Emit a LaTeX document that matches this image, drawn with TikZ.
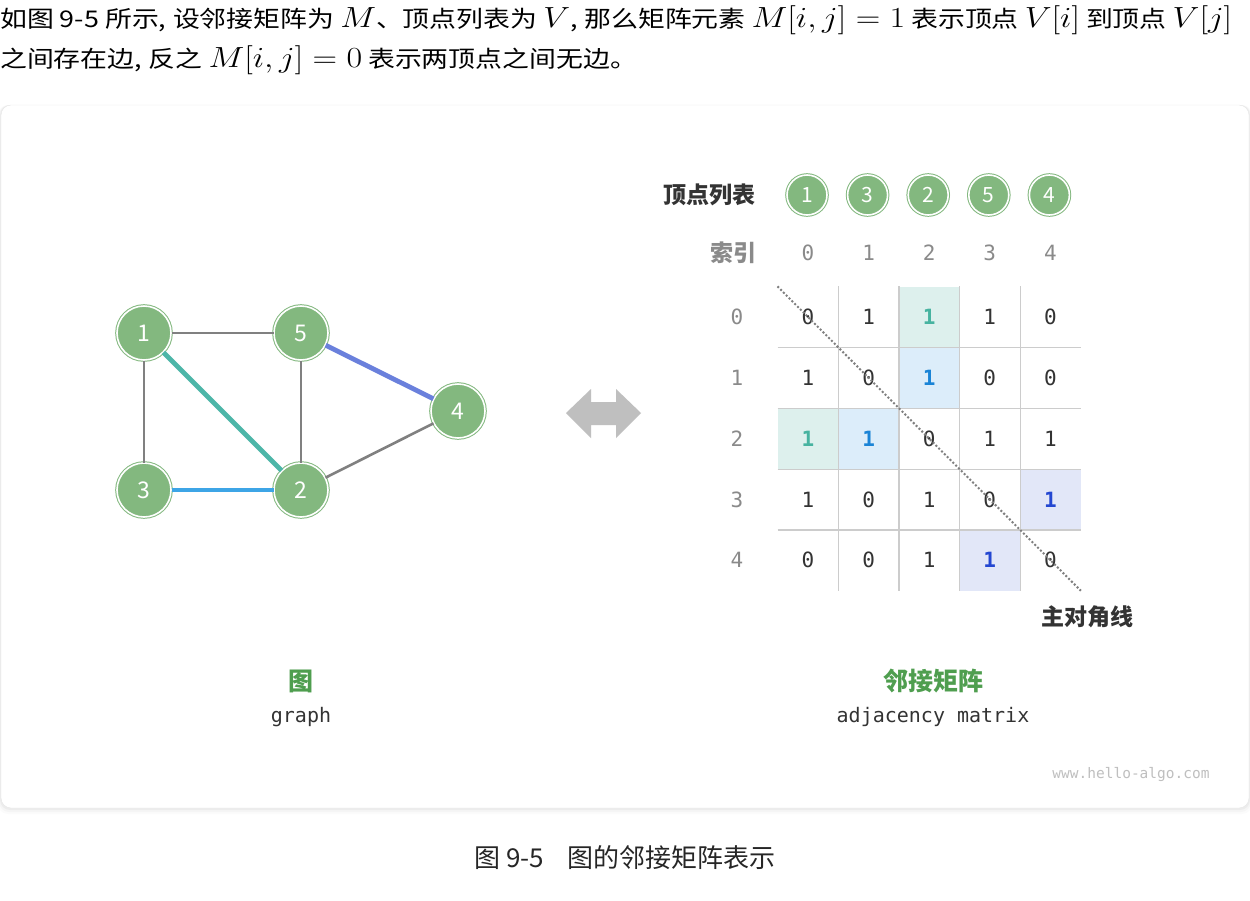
\documentclass[tikz,border=0pt]{standalone}
\usepackage{graphicx}
\usepackage{fontspec}
\setmainfont{Noto Sans CJK SC}
\setmonofont{DejaVu Sans Mono}
\usetikzlibrary{positioning}
\definecolor{vgreen}{HTML}{83B87F}
\definecolor{lblgreen}{HTML}{4F9E4F}
\definecolor{darktext}{HTML}{333333}
\definecolor{greytext}{HTML}{8A8A8A}
\definecolor{edgegrey}{HTML}{808080}
\definecolor{edgeteal}{HTML}{4DB6A8}
\definecolor{edgeblue}{HTML}{3DA5E6}
\definecolor{edgeindigo}{HTML}{6A80DC}
\definecolor{fillteal}{HTML}{DDF0ED}
\definecolor{fillblue}{HTML}{DCEDFA}
\definecolor{fillindigo}{HTML}{E2E7F8}
\definecolor{numteal}{HTML}{47B3A0}
\definecolor{numblue}{HTML}{1A84D6}
\definecolor{numindigo}{HTML}{2447D1}
\newcommand{\fsz}[1]{\fontsize{#1}{#1}\selectfont}
\newcommand{\mth}[1]{{\fsz{24}\scalebox{1.17}{$#1$}}}
\newcommand{\cm}{,\hspace{0.25em}}
% hai dòng chữ phía trên, đo trước rồi kéo giãn ngang
\newsavebox\lineonebox
\newsavebox\linetwobox
\AtBeginDocument{%
  \sbox\lineonebox{\normalfont\fsz{23}如图 9-5 所示\cm 设邻接矩阵为 \mth{M}、顶点列表为 \mth{V}\cm 那么矩阵元素 \mth{M[i,j]=1} 表示顶点 \mth{V[i]} 到顶点 \mth{V[j]}}%
  \sbox\linetwobox{\normalfont\fsz{23}之间存在边\cm 反之 \mth{M[i,j]=0} 表示两顶点之间无边。}%
}
\newlength\lineonewd
\tikzset{
  vertex/.style={circle,fill=vgreen,draw=vgreen,double=white,double distance=1.6pt,
    line width=1pt,minimum size=54pt,inner sep=0pt,text=white,font=\fsz{23}},
  listvertex/.style={vertex,minimum size=40pt,font=\fsz{21}},
  cell/.style={minimum width=60.6pt,minimum height=60.8pt,inner sep=0pt,font=\ttfamily\fsz{21}},
  cellplain/.style={text=darktext},
  cellteal/.style={fill=fillteal,text=numteal,font=\ttfamily\bfseries\fsz{21}},
  cellblue/.style={fill=fillblue,text=numblue,font=\ttfamily\bfseries\fsz{21}},
  cellindigo/.style={fill=fillindigo,text=numindigo,font=\ttfamily\bfseries\fsz{21}},
  idx/.style={text=greytext,font=\ttfamily\fsz{21}},
  heading/.style={text=darktext,font=\bfseries\fsz{23}},
  title/.style={text=lblgreen,font=\bfseries\fsz{25}},
  subtitle/.style={text=darktext,font=\ttfamily\fsz{20}},
  toptext/.style={text=black,inner sep=0pt},
}
\begin{document}
\begin{tikzpicture}[x=1pt,y=-1pt]
    \useasboundingbox (0,0) rectangle (1250,900);
    % Đoạn văn phía trên
    \setlength\lineonewd{\wd\lineonebox}
    \pgfmathsetmacro\stretch{1232/\lineonewd}
    \node[toptext,anchor=base west] (line1) at (0,27) {\scalebox{\stretch}[1]{\usebox\lineonebox}};
    \node[toptext,anchor=base west] (line2) at (0,67) {\scalebox{\stretch}[1]{\usebox\linetwobox}};
    % Khung thẻ
    \foreach \d/\o in {6/0.015,4/0.025,2/0.035}
    \fill[black,opacity=\o,rounded corners=10pt] (1-\d/2,105) rectangle (1249+\d/2,808+\d);
    \draw[gray!20,fill=white,rounded corners=10pt] (1,105) rectangle (1249,808);
    % Đồ thị
    \node[vertex] (v1) at (144,333) {1};
    \node[vertex] (v5) at (301,333) {5};
    \node[vertex] (v4) at (458,411) {4};
    \node[vertex] (v3) at (144,490) {3};
    \node[vertex] (v2) at (301,490) {2};
    \foreach \a/\b in {v1/v5,v1/v3,v5/v2,v2/v4}
    \draw[edgegrey,line width=2.6pt] (\a) -- (\b);
    \draw[edgeteal,line width=4.8pt] (v1) -- (v2);
    \draw[edgeblue,line width=4.8pt] (v3) -- (v2);
    \draw[edgeindigo,line width=4.8pt] (v5) -- (v4);
    % Mũi tên hai chiều
    \fill[gray!50] (566,413) -- (591,389) -- (591,402) -- (616,402) -- (616,389)
      -- (641,413) -- (616,438) -- (616,425) -- (591,425) -- (591,438) -- cycle;
    % Danh sách đỉnh và chỉ số
    \node[heading] (vlist) at (709,195) {顶点列表};
    \node[heading,text=greytext] (index) at (733,253) {索引};
    \foreach \v [count=\c from 0] in {1,3,2,5,4}
    \node[listvertex] (l\c) at ({807+60.6*\c},195) {\v};
    \foreach \c in {0,...,4}
    \node[idx] (i\c) at ({808+60.6*\c},253) {\c};
    % Ma trận kề
    \foreach \row [count=\r from 0] in {
      {0/plain,1/plain,1/teal,1/plain,0/plain},
      {1/plain,0/plain,1/blue,0/plain,0/plain},
      {1/teal,1/blue,0/plain,1/plain,1/plain},
      {1/plain,0/plain,1/plain,0/plain,1/indigo},
      {0/plain,0/plain,1/plain,1/indigo,0/plain}} {
      \node[idx] (r\r) at (737,{317+60.8*\r}) {\r};
      \foreach \v/\s [count=\c from 0] in \row
      \node[cell,cell\s] (m\r\c) at ({808+60.6*\c},{317+60.8*\r}) {\v};
    }
    \foreach \k in {0,...,3} {
      \draw[gray!40,line width=1.4pt] (m0\k.north east) -- (m4\k.south east);
      \draw[gray!40,line width=1.4pt] (m\k0.south west) -- (m\k4.south east);
    }
    % Đường chéo chính
    \draw[edgegrey,dotted,line width=2pt] (m00.north west) -- (m44.south east);
    \node[heading] (diag) at (1087,617) {主对角线};
    % Nhãn dưới
    \node[title] (gtitle) at (301,681) {图};
    \node[subtitle] (gsub) at (301,717) {graph};
    \node[title] (mtitle) at (933,681) {邻接矩阵};
    \node[subtitle] (msub) at (933,717) {adjacency matrix};
    \node[text=gray!50,font=\ttfamily\fsz{14.5}] (site) at (1131,774) {www.hello-algo.com};
    % Chú thích
    \node[text=black!85,font=\fsz{26}] (caption) at (625,858) {图 9-5\hspace{0.9em}图的邻接矩阵表示};
\end{tikzpicture}
\end{document}
